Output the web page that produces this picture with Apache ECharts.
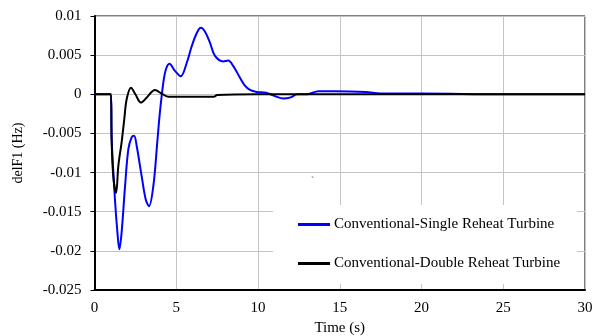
<!DOCTYPE html>
<html>
<head>
<meta charset="utf-8">
<script src="https://cdn.jsdelivr.net/npm/echarts@6/dist/echarts.min.js"></script>
<style>
  html, body { margin: 0; padding: 0; background: #fff; }
  #chart { width: 595px; height: 336px; }
</style>
</head>
<body>
<div id="chart"></div>
<script>
// time axis ticks (s) and frequency ticks (Hz)
const xTicks = [0, 5, 10, 15, 20, 25, 30];
const yTicks = [0.01, 0.005, 0, -0.005, -0.01, -0.015, -0.02, -0.025];

// Conventional - single reheat turbine
const singleT = [0, 1.0, 1.05, 1.25, 1.4, 1.52, 1.66, 1.87, 2.07, 2.27, 2.42, 2.58, 2.88, 3.13, 3.33,
  3.6, 3.84, 4.0, 4.21, 4.37, 4.58, 4.92, 5.27, 5.64, 5.94, 6.25, 6.5, 6.76, 7.06, 7.37, 7.88,
  8.18, 8.49, 8.9, 9.2, 9.51, 9.92, 10.5, 11.0, 11.55, 12.0, 12.4, 13.0, 13.7, 14.7, 16.6,
  17.5, 20, 25, 30];
const singleV = [0, 0, -0.0057, -0.0134, -0.0176, -0.0198, -0.0176, -0.0117, -0.007, -0.0055, -0.0053,
  -0.0066, -0.0104, -0.0134, -0.0143, -0.0117, -0.0061, -0.0023, 0.0015, 0.0032, 0.0039, 0.003,
  0.0023, 0.004, 0.0061, 0.0078, 0.0085, 0.008, 0.0066, 0.0049, 0.0042, 0.0043, 0.0036, 0.0021,
  0.0011, 0.00055, 0.0003, 0.0002, -0.0002, -0.00055, -0.0004, 0, 0, 0.0004, 0.0004, 0.0003,
  0.0001, 0.0001, 0, 0];

// Conventional - double reheat turbine
const doubleT = [0, 1.0, 1.05, 1.15, 1.32, 1.46, 1.66, 1.82, 1.97, 2.23, 2.5, 2.84, 3.2, 3.7, 4.1,
  4.5, 6, 7.3, 7.5, 10, 20, 30];
const doubleV = [0, 0, -0.0061, -0.0105, -0.0126, -0.0091, -0.0061, -0.0032, -0.0006, 0.00085, 0,
  -0.00106, -0.0004, 0.00055, 0.0001, -0.0003, -0.0003, -0.0003, -0.0001, 0, 0, 0];

const seriesNames = ["Conventional-Single Reheat Turbine", "Conventional-Double Reheat Turbine"];

const chart = echarts.init(document.getElementById("chart"), null, { renderer: "canvas" });

const font = "Liberation Serif";

const option = {
  animation: false,
  backgroundColor: "#fff",
  textStyle: { fontFamily: font },
  grid: {
    left: 94.5,
    right: 10,
    top: 16,
    bottom: 46,
    outerBoundsMode: "none",
    containLabel: false,
    show: true,
    borderColor: "#000",
    borderWidth: 1,
  },
  xAxis: {
    type: "value",
    min: xTicks[0],
    max: xTicks[xTicks.length - 1],
    interval: 5,
    name: "Time (s)",
    nameLocation: "middle",
    nameGap: 29,
    nameTextStyle: { fontFamily: font, fontSize: 15, color: "#000" },
    axisLine: { onZero: false, lineStyle: { color: "#000", width: 2 } },
    axisTick: { show: false },
    axisLabel: { fontFamily: font, fontSize: 15, color: "#000", margin: 11 },
    splitLine: { show: true, lineStyle: { color: "#c4c4c4", width: 1 } },
  },
  yAxis: {
    type: "value",
    min: yTicks[yTicks.length - 1],
    max: yTicks[0],
    interval: 0.005,
    name: "delF1 (Hz)",
    nameLocation: "middle",
    nameGap: 69,
    nameTextStyle: { fontFamily: font, fontSize: 14, color: "#000" },
    axisLine: { show: true, lineStyle: { color: "#000", width: 2 } },
    axisTick: { show: true, length: 4, lineStyle: { color: "#000" } },
    axisLabel: {
      fontFamily: font, fontSize: 15, color: "#000", margin: 13,
      formatter: (v) => String(parseFloat(v.toFixed(3))),
    },
    splitLine: { show: true, lineStyle: { color: "#c4c4c4", width: 1 } },
  },
  legend: {
    orient: "vertical",
    left: 293,
    top: 212,
    itemWidth: 32,
    itemHeight: 3,
    itemGap: 24,
    icon: "rect",
    z: 10,
    textStyle: { fontFamily: font, fontSize: 15, color: "#000", padding: [0, 0, 0, -1] },
    data: seriesNames,
  },
  graphic: [
    {
      type: "rect",
      z: 5,
      shape: { x: 273, y: 205, width: 304, height: 79 },
      style: { fill: "#fff" },
    },
    {
      type: "text",
      z: 5,
      x: 311,
      y: 176,
      style: { text: "`", fill: "#555", font: "10px " + font },
    },
  ],
  series: [
    {
      name: seriesNames[0],
      type: "line",
      data: singleT.map((t, i) => [t, singleV[i]]),
      smooth: 0.35,
      showSymbol: false,
      z: 3,
      itemStyle: { color: "#0000ff" },
      lineStyle: { color: "#0000ff", width: 2 },
    },
    {
      name: seriesNames[1],
      type: "line",
      data: doubleT.map((t, i) => [t, doubleV[i]]),
      smooth: 0.35,
      showSymbol: false,
      z: 4,
      itemStyle: { color: "#000" },
      lineStyle: { color: "#000", width: 2 },
    },
  ],
};

chart.setOption(option);
</script>
</body>
</html>
